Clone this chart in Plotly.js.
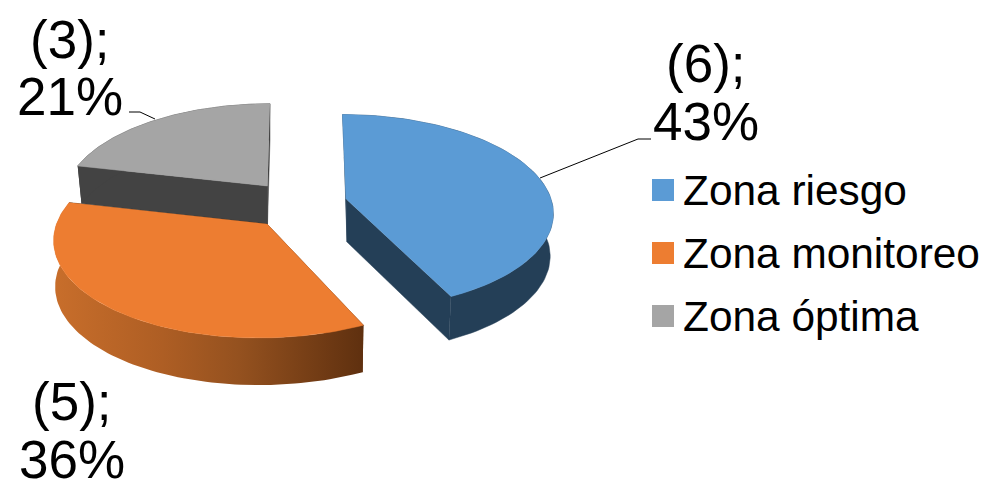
<!DOCTYPE html>
<html><head><meta charset="utf-8">
<script src="https://cdn.plot.ly/plotly-3.0.1.min.js"></script>
<style>html,body{margin:0;padding:0;background:#fff}#c{width:990px;height:479px}</style>
</head><body><div id="c"></div>
<script>
// ---- data ----
const categories = ["Zona riesgo", "Zona monitoreo", "Zona óptima"];
const counts = [6, 5, 3];
const percents = [43, 36, 21];
const topColors = ["#5B9BD5", "#ED7D31", "#A5A5A5"];
const cutColors = ["#243F57", "#5F300F", "#434343"];

// ---- projection of each exploded slice (top face and bottom face) ----
const K = 0.131;
const geom = [
  {top:{cx:346,cy:199,A:205,B:95.5,s:-4},  bot:{cx:347,cy:242,A:201,B:96,s:-3}},
  {top:{cx:267,cy:224,A:210.5,B:99,s:7},   bot:{cx:267,cy:270,A:209,B:100,s:7}},
  {top:{cx:267.5,cy:186,A:201,B:93,s:2.8}, bot:{cx:267.5,cy:224,A:197,B:95,s:2.8}}
];
const total = counts.reduce((a,b)=>a+b,0);
function pt(g,t){const d=1+K*Math.cos(t);return [g.cx+(g.A*Math.sin(t)+g.s*Math.cos(t))/d, g.cy-g.B*Math.cos(t)/d];}
function arc(g,a,b){const o=[];for(let i=0;i<=90;i++){o.push(pt(g,a+(b-a)*i/90));}return o;}
function poly(pts,extra){return Object.assign({type:'scatter',mode:'lines',x:pts.map(p=>p[0]),y:pts.map(p=>p[1]),fill:'toself',hoverinfo:'skip',showlegend:false,line:{width:0.5}},extra);}

const angles=[];let acc=0;
counts.forEach(v=>{const a=acc/total*2*Math.PI;acc+=v;angles.push([a,acc/total*2*Math.PI]);});

function sliceTraces(i,gradient){
  const g=geom[i],[a,b]=angles[i],c=topColors[i],w=cutColors[i],out=[];
  const apexT=[g.top.cx,g.top.cy],apexB=[g.bot.cx,g.bot.cy];
  const style={fillcolor:w,line:{width:0.5,color:w}};
  out.push(poly([pt(g.top,a),apexT,apexB,pt(g.bot,a)],style));
  out.push(poly([pt(g.top,b),apexT,apexB,pt(g.bot,b)],style));
  const rim=arc(g.top,a,b).concat(arc(g.bot,a,b).reverse());
  const rimStyle=gradient?{fillgradient:gradient,line:{width:0}}:style;
  out.push(poly(rim,rimStyle));
  out.push(poly([apexT].concat(arc(g.top,a,b)),{fillcolor:c,line:{width:0.5,color:c}}));
  return out;
}
const orangeRim={type:'horizontal',colorscale:[[0,'#C86E2B'],[0.35,'#AE5E24'],[0.6,'#94511F'],[1,'#5F300F']]};
const traces=[].concat(sliceTraces(2),sliceTraces(0),sliceTraces(1,orangeRim));

const leaderLines=[
  {x:[540,638,651],y:[178,139,139]},
  {x:[155,140,129],y:[119,112,112]}
];
leaderLines.forEach(l=>traces.push({type:'scatter',mode:'lines',x:l.x,y:l.y,hoverinfo:'skip',showlegend:false,line:{color:'#000',width:1}}));

const legendY=[190,253,316];
traces.push({type:'scatter',mode:'markers',x:categories.map(()=>663),y:legendY,hoverinfo:'skip',showlegend:false,
  marker:{symbol:'square',size:22,color:topColors,line:{width:0}}});

const FF='"Liberation Sans", Arial, sans-serif';
const annotations=[];
categories.forEach((c,i)=>annotations.push({x:681,y:legendY[i],text:c,showarrow:false,xanchor:'left',yanchor:'middle',font:{family:FF,size:42.4,color:'#000'}}));
const labelPos=[{x:706,y1:63,y2:121},{x:72,y1:401,y2:459},{x:70,y1:39,y2:96}];
counts.forEach((v,i)=>{
  annotations.push({x:labelPos[i].x,y:labelPos[i].y1,text:'('+v+');',showarrow:false,xanchor:'center',yanchor:'middle',font:{family:FF,size:53,color:'#000'}});
  annotations.push({x:labelPos[i].x,y:labelPos[i].y2,text:percents[i]+'%',showarrow:false,xanchor:'center',yanchor:'middle',font:{family:FF,size:53,color:'#000'}});
});

Plotly.newPlot('c',traces,{
  width:990,height:479,margin:{l:0,r:0,t:0,b:0},showlegend:false,
  paper_bgcolor:'#fff',plot_bgcolor:'#fff',
  xaxis:{range:[0,990],visible:false,fixedrange:true},
  yaxis:{range:[479,0],visible:false,fixedrange:true},
  annotations:annotations
},{displayModeBar:false,staticPlot:true});
</script></body></html>
